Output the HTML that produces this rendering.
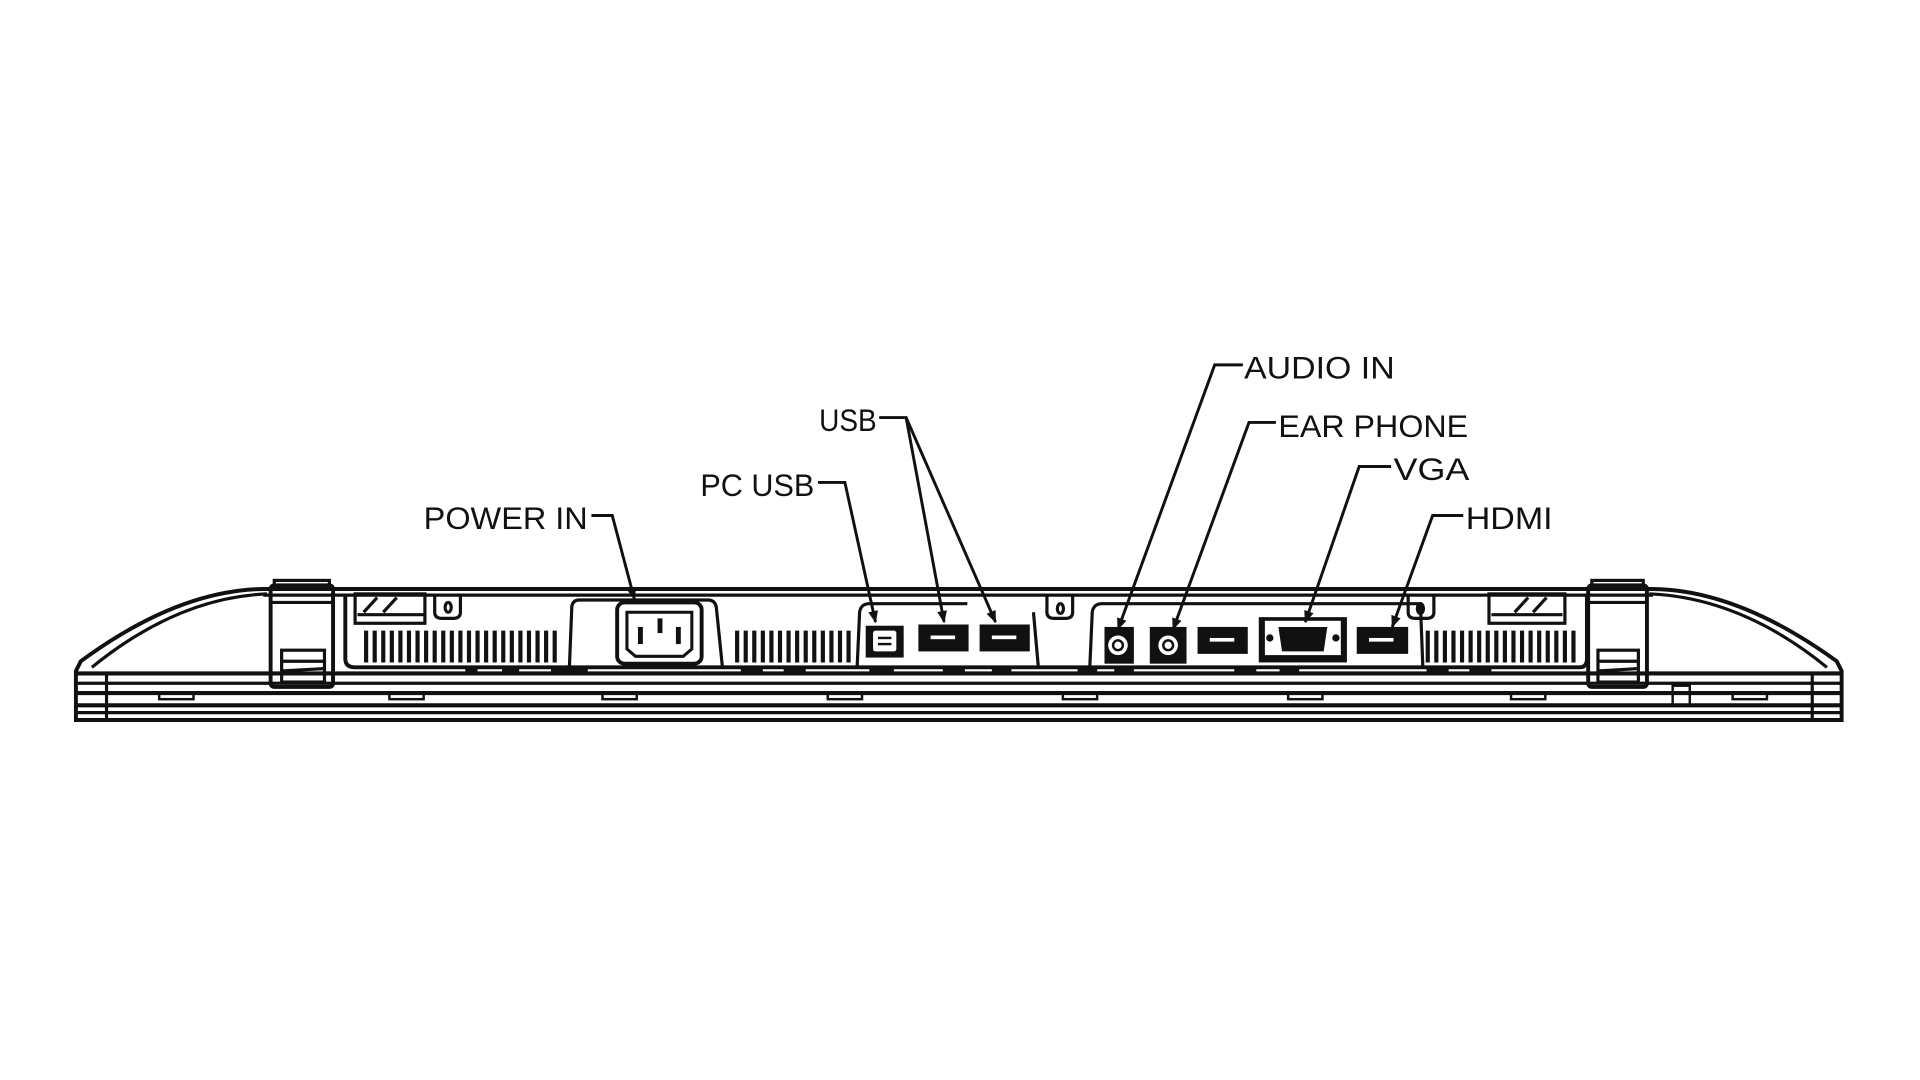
<!DOCTYPE html>
<html><head><meta charset="utf-8"><style>
html,body{margin:0;padding:0;background:#fff;}
svg{display:block;}
text{font-family:"Liberation Sans",sans-serif;font-size:26px;fill:#111;}
</style></head><body>
<svg width="1920" height="1080" viewBox="0 0 1568 882" xmlns="http://www.w3.org/2000/svg">
<defs>
<marker id="ar" viewBox="0 0 10 10" refX="9" refY="5" markerWidth="5" markerHeight="5" markerUnits="userSpaceOnUse" orient="auto"><path d="M0,1 L10,5 L0,9 z" fill="#111"/></marker>
<marker id="ar2" viewBox="0 0 10 10" refX="9" refY="5" markerWidth="12" markerHeight="10" markerUnits="userSpaceOnUse" orient="auto"><path d="M0,1 L10,5 L0,9 z" fill="#111"/></marker>
</defs>
<g fill="none" stroke="#111" stroke-width="2.6">
<path d="M62,548 L62,588 L1504,588 L1504,548 L1500,540 Q1420,482 1350,481 L215,481 Q145,482 66,540 Z" stroke-width="3.2"/>
<path d="M75,545 Q145,488 218,485" />
<path d="M1492,545 Q1422,488 1347,485" />
<line x1="62" y1="550" x2="1504" y2="550" stroke-width="3.4"/>
<line x1="62" y1="558" x2="1504" y2="558"/>
<line x1="62" y1="566" x2="1504" y2="566" stroke-width="3.4"/>
<line x1="62" y1="576" x2="1504" y2="576" stroke-width="3.4"/>
<line x1="62" y1="582" x2="1504" y2="582"/>
<line x1="87" y1="550" x2="87" y2="588"/>
<line x1="1480" y1="550" x2="1480" y2="588"/>
<line x1="215" y1="486" x2="1350" y2="486"/>
<g stroke-width="2">
<rect x="130" y="566" width="28" height="5"/><rect x="318" y="566" width="28" height="5"/><rect x="492" y="566" width="28" height="5"/><rect x="676" y="566" width="28" height="5"/><rect x="868" y="566" width="28" height="5"/><rect x="1052" y="566" width="28" height="5"/><rect x="1234" y="566" width="28" height="5"/><rect x="1415" y="566" width="28" height="5"/>
<rect x="1366" y="560" width="14" height="16"/>
</g>
<rect x="221" y="478" width="51" height="83" rx="3" stroke-width="3.2"/>
<rect x="224" y="474" width="45" height="6"/>
<line x1="221" y1="492" x2="272" y2="492"/>
<rect x="230" y="531" width="35" height="26"/>
<line x1="230" y1="540" x2="265" y2="540"/><line x1="230" y1="548" x2="265" y2="546"/>
<rect x="1297" y="478" width="48" height="83" rx="3" stroke-width="3.2"/>
<rect x="1300" y="474" width="42" height="6"/>
<line x1="1297" y1="492" x2="1345" y2="492"/>
<rect x="1305" y="531" width="33" height="26"/>
<line x1="1305" y1="540" x2="1338" y2="540"/><line x1="1305" y1="548" x2="1338" y2="546"/>
<rect x="290" y="485" width="57" height="24"/>
<line x1="292" y1="502" x2="346" y2="502"/>
<line x1="297" y1="500" x2="308" y2="488"/><line x1="313" y1="500" x2="324" y2="488"/>
<rect x="1216" y="485" width="62" height="24"/>
<line x1="1218" y1="502" x2="1276" y2="502"/>
<line x1="1237" y1="500" x2="1248" y2="488"/><line x1="1252" y1="500" x2="1263" y2="488"/>
<path d="M282,486 L282,538 Q282,545 290,545 L1290,545 Q1296,545 1296,538 L1296,486" stroke-width="3.2"/>
<path d="M355,486 L355,500 Q355,505 361,505 L370,505 Q376,505 376,500 L376,486"/>
<ellipse cx="366" cy="496" rx="2.5" ry="4"/>
<path d="M465,545 L467,495 Q468,490 473,490 L578,490 Q584,490 585,496 L590,545"/>
<path d="M700,545 L702,500 Q703,493 710,493 L790,493"/>
<path d="M848,545 L844,500"/>
<path d="M855,486 L855,500 Q855,505 861,505 L870,505 Q876,505 876,500 L876,486"/>
<ellipse cx="866" cy="497" rx="2.5" ry="4"/>
<path d="M890,545 L892,500 Q893,493 900,493 L1160,493 L1162,545"/>
<path d="M1150,486 L1150,500 Q1150,505 1156,505 L1165,505 Q1171,505 1171,500 L1171,486"/>
<ellipse cx="1160" cy="497" rx="2.5" ry="4"/>
<rect x="504" y="492" width="69" height="50" rx="6" stroke-width="3.2"/>
<path d="M512,500 L565,500 L565,530 L558,536 L519,536 L512,530 Z" stroke-width="2.5"/>
</g>
<g fill="#111">
<rect x="521" y="512" width="4" height="14"/><rect x="552" y="512" width="4" height="14"/><rect x="537" y="505" width="4" height="12"/>
</g>
<g stroke="#111" stroke-width="3.4">
<path d="M299,515v26M306,515v26M313,515v26M320,515v26M327,515v26M334,515v26M341,515v26M348,515v26M355,515v26M362,515v26M369,515v26M376,515v26M383,515v26M390,515v26M397,515v26M404,515v26M411,515v26M418,515v26M425,515v26M432,515v26M439,515v26M446,515v26M453,515v26"/>
<path d="M602,515v26M609,515v26M616,515v26M623,515v26M630,515v26M637,515v26M644,515v26M651,515v26M658,515v26M665,515v26M672,515v26M679,515v26M686,515v26M693,515v26"/>
<path d="M1166,515v26M1173,515v26M1180,515v26M1187,515v26M1194,515v26M1201,515v26M1208,515v26M1215,515v26M1222,515v26M1229,515v26M1236,515v26M1243,515v26M1250,515v26M1257,515v26M1264,515v26M1271,515v26M1278,515v26M1285,515v26"/>
</g>
<g fill="#111">
<rect x="707" y="511" width="31" height="26"/>
<rect x="750" y="510" width="41" height="22"/>
<rect x="800" y="510" width="41" height="22"/>
<rect x="902" y="512" width="24" height="30"/>
<rect x="939" y="512" width="30" height="30"/>
<rect x="978" y="512" width="41" height="22"/>
<rect x="1028" y="504" width="72" height="37"/>
<rect x="1108" y="512" width="42" height="22"/>
</g>
<g fill="#fff">
<rect x="713" y="515" width="19" height="17" rx="2"/>
<rect x="760" y="519" width="20" height="3"/><rect x="810" y="519" width="20" height="3"/>
<rect x="988" y="521" width="20" height="3"/><rect x="1118" y="521" width="20" height="3"/>
<circle cx="913" cy="527" r="8"/><circle cx="954" cy="527" r="8"/>
<rect x="1033" y="507" width="62" height="28"/>
</g>
<g fill="none" stroke="#111" stroke-width="2">
<line x1="717" y1="521" x2="728" y2="521"/><line x1="717" y1="526" x2="728" y2="526"/>
<circle cx="913" cy="527" r="4"/><circle cx="954" cy="527" r="4"/>
</g>
<g fill="#111">
<path d="M1044,512 L1084,512 L1081,532 L1047,532 Z"/>
<circle cx="1037" cy="521" r="3"/><circle cx="1091" cy="521" r="3"/>
</g>
<g stroke="#111" stroke-width="5">
<path d="M380,548h10M410,548h14M450,548h30M605,548h18M640,548h18M710,548h20M770,548h18M810,548h16M880,548h16M910,548h16M1008,548h18M1045,548h16M1165,548h18M1200,548h18"/>
</g>
<g fill="none" stroke="#111" stroke-width="2.4">
<polyline points="483,421 500,421 518,489" marker-end="url(#ar2)"/>
<polyline points="668,394 690,394 715,508" marker-end="url(#ar2)"/>
<polyline points="718,341 740,341 771,508" marker-end="url(#ar2)"/>
<polyline points="740,341 813,508" marker-end="url(#ar2)"/>
<polyline points="1015,298 992,298 913,514" marker-end="url(#ar2)"/>
<polyline points="1042,345 1020,345 958,514" marker-end="url(#ar2)"/>
<polyline points="1136,381 1110,381 1066,508" marker-end="url(#ar2)"/>
<polyline points="1195,421 1170,421 1137,512" marker-end="url(#ar2)"/>
</g>
<g>
<text x="346" y="432" textLength="134" lengthAdjust="spacingAndGlyphs">POWER IN</text>
<text x="572" y="405" textLength="93" lengthAdjust="spacingAndGlyphs">PC USB</text>
<text x="669" y="352" textLength="47" lengthAdjust="spacingAndGlyphs">USB</text>
<text x="1016" y="309" textLength="123" lengthAdjust="spacingAndGlyphs">AUDIO IN</text>
<text x="1044" y="357" textLength="155" lengthAdjust="spacingAndGlyphs">EAR PHONE</text>
<text x="1138" y="392" textLength="62" lengthAdjust="spacingAndGlyphs">VGA</text>
<text x="1197" y="432" textLength="71" lengthAdjust="spacingAndGlyphs">HDMI</text>
</g>
</svg>
</body></html>
